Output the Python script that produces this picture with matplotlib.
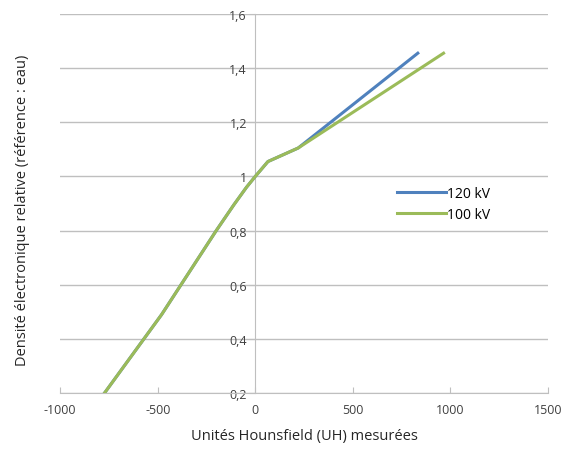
import numpy as np
from matplotlib import pyplot as plt
from matplotlib.ticker import FuncFormatter

# HU -> relative electron density
hu_120 = [-773, -480, -200, -110, -45, 0, 65, 220, 833]
red_120 = [0.2, 0.49, 0.8, 0.895, 0.96, 1.0, 1.055, 1.105, 1.455]
hu_100 = [-773, -480, -200, -110, -45, 0, 65, 220, 965]
red_100 = [0.2, 0.49, 0.8, 0.895, 0.96, 1.0, 1.055, 1.105, 1.455]

x_ticks = [-1000, -500, 0, 500, 1000, 1500]
y_ticks = [0.2, 0.4, 0.6, 0.8, 1.0, 1.2, 1.4, 1.6]

plt.rcParams['font.family'] = ['Open Sans', 'DejaVu Sans']
plt.rcParams['axes.unicode_minus'] = False

fig = plt.figure(figsize=(5.62, 4.52), dpi=100)
ax = fig.add_axes([0.107, 0.128, 0.868, 0.839])

ax.plot(hu_120, red_120, color='#4F81BD', lw=2.2, label='120 kV', zorder=3)
ax.plot(hu_100, red_100, color='#9BBB59', lw=2.2, label='100 kV', zorder=3)

ax.set_xlim(-1000, 1500)
ax.set_ylim(0.2, 1.6)
ax.set_xticks(x_ticks)
ax.set_yticks(y_ticks)
ax.yaxis.set_major_formatter(FuncFormatter(lambda v, p: f'{v:g}'.replace('.', ',')))

ax.grid(axis='y', color='#BFBFBF', lw=1)
ax.set_axisbelow(True)
for s in ['top', 'right']:
    ax.spines[s].set_visible(False)
ax.spines['left'].set_position(('data', 0))
ax.spines['left'].set_color('#BFBFBF')
ax.spines['bottom'].set_color('#BFBFBF')
ax.tick_params(axis='both', colors='#BFBFBF', labelcolor='#404040', labelsize=9, length=4)
ax.tick_params(axis='x', direction='in', pad=7)
ax.tick_params(axis='y', direction='out', pad=2)

ax.set_xlabel('Unités Hounsfield (UH) mesurées', fontsize=10.5, color='#262626', labelpad=9)
fig.text(0.040, 0.535, 'Densité électronique relative (référence : eau)', rotation=90,
         fontsize=10.5, color='#262626', ha='center', va='center')

ax.legend(loc='upper left', bbox_to_anchor=(0.665, 0.58), frameon=False, fontsize=10,
          handlelength=3.5, handletextpad=0.1, labelspacing=0.45)

fig.savefig('out.png', dpi=100)
